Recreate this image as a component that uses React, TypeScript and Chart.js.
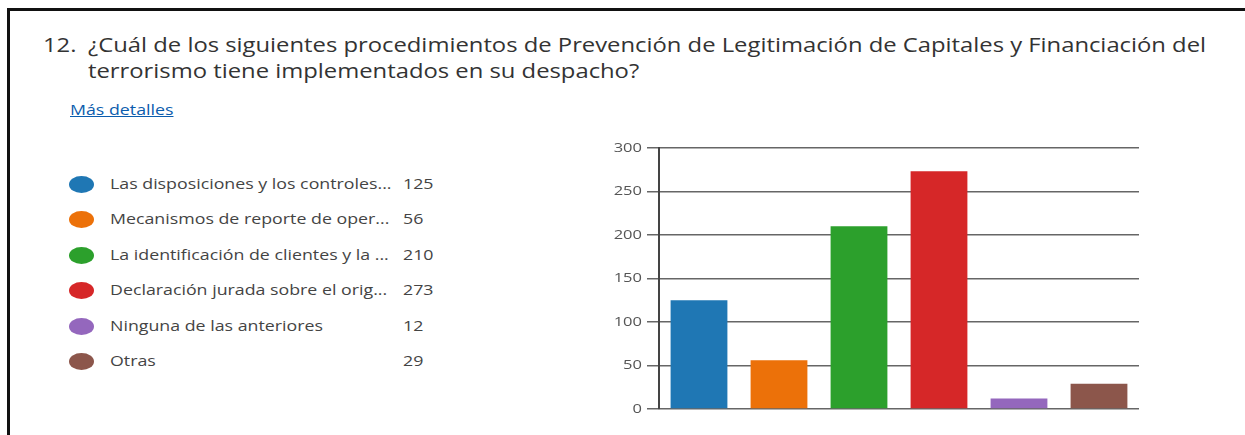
import React, { useEffect, useRef } from "react";
import { Chart, registerables } from "chart.js";

Chart.register(...registerables);

const categories = [
  "Las disposiciones y los controles...",
  "Mecanismos de reporte de oper...",
  "La identificación de clientes y la ...",
  "Declaración jurada sobre el orig...",
  "Ninguna de las anteriores",
  "Otras",
];
const counts = [125, 56, 210, 273, 12, 29];
const colors = ["#1f77b4", "#ec7109", "#2ca02c", "#d62728", "#9467bd", "#8c564b"];
const yTicks = [0, 50, 100, 150, 200, 250, 300];

const titleNumber = "12.";
const titleLine1 =
  "¿Cuál de los siguientes procedimientos de Prevención de Legitimación de Capitales y Financiación del";
const titleLine2 = "terrorismo tiene implementados en su despacho?";
const linkText = "Más detalles";

const FONT = "'Open Sans', 'Noto Sans', sans-serif";
const STRETCH = 1.27;

const stretchedTicks = {
  id: "stretchedTicks",
  afterDraw(chart: any) {
    const scale = chart.scales.y;
    const ctx = chart.ctx;
    ctx.save();
    ctx.fillStyle = "#555";
    ctx.font = `13px ${FONT}`;
    ctx.textAlign = "right";
    ctx.textBaseline = "middle";
    const right = scale.right - 12 - 5;
    scale.ticks.forEach((t: any) => {
      const y = scale.getPixelForValue(t.value);
      ctx.save();
      ctx.translate(right, y);
      ctx.scale(STRETCH, 1);
      ctx.fillText(String(t.value), 0, 0);
      ctx.restore();
    });
    ctx.restore();
  },
};

export default function App() {
  const canvasRef = useRef<HTMLCanvasElement | null>(null);

  useEffect(() => {
    if (!canvasRef.current) return;
    const chart = new Chart(canvasRef.current, {
      type: "bar",
      data: {
        labels: categories,
        datasets: [
          {
            data: counts,
            backgroundColor: colors,
            borderWidth: 0,
            barPercentage: 0.71,
            categoryPercentage: 1,
          },
        ],
      },
      options: {
        animation: false,
        responsive: false,
        maintainAspectRatio: false,
        layout: { padding: { top: 10, bottom: 18, right: 11, left: 0 } },
        plugins: { legend: { display: false }, tooltip: { enabled: false } },
        scales: {
          x: { display: false },
          y: {
            min: 0,
            max: 300,
            afterFit: (scale: any) => {
              scale.width = 69;
            },
            afterBuildTicks: (scale: any) => {
              scale.ticks = yTicks.map((v) => ({ value: v }));
            },
            ticks: {
              padding: 5,
              color: "rgba(0,0,0,0)",
              font: { family: FONT, size: 13 },
            },
            grid: {
              color: "#666",
              lineWidth: 1.5,
              tickLength: 12,
            },
            border: { display: true, color: "#444", width: 2 },
          },
        },
      },
      plugins: [stretchedTicks],
    });
    return () => chart.destroy();
  }, []);

  const stretch = (s: number): React.CSSProperties => ({
    transform: `scaleX(${s})`,
    transformOrigin: "left center",
    whiteSpace: "nowrap",
  });

  return (
    <div
      style={{
        position: "absolute",
        left: 0,
        top: 0,
        width: 1245,
        height: 435,
        overflow: "hidden",
        background: "#fff",
        fontFamily: FONT,
      }}
    >
      <div
        style={{
          position: "absolute",
          left: 7,
          top: 8,
          width: 1300,
          height: 500,
          border: "3px solid #111",
          boxSizing: "border-box",
        }}
      />
      <div style={{ position: "absolute", left: 43, top: 32, fontSize: 20, color: "#333", lineHeight: "26px", ...stretch(1.19) }}>
        {titleNumber}
      </div>
      <div style={{ position: "absolute", left: 88, top: 32, fontSize: 20, color: "#333", lineHeight: "26px" }}>
        <div style={stretch(1.19)}>{titleLine1}</div>
        <div style={stretch(1.19)}>{titleLine2}</div>
      </div>
      <div
        style={{
          position: "absolute",
          left: 70,
          top: 100,
          fontSize: 14,
          color: "#0b5cad",
          textDecoration: "underline",
          ...stretch(STRETCH),
        }}
      >
        {linkText}
      </div>
      {categories.map((c, i) => (
        <div
          key={c}
          style={{ position: "absolute", left: 68, top: 184 + i * 35.4 - 10, height: 20, width: 380 }}
        >
          <div
            style={{
              position: "absolute",
              left: 1,
              top: 2,
              width: 25,
              height: 17,
              borderRadius: "50%",
              background: colors[i],
            }}
          />
          <div style={{ position: "absolute", left: 42, top: 0, fontSize: 14, color: "#444", lineHeight: "20px", ...stretch(STRETCH) }}>
            {c}
          </div>
          <div style={{ position: "absolute", left: 335, top: 0, fontSize: 14, color: "#444", lineHeight: "20px", ...stretch(STRETCH) }}>
            {counts[i]}
          </div>
        </div>
      ))}
      <canvas
        ref={canvasRef}
        width={560}
        height={292}
        style={{ position: "absolute", left: 590, top: 135, width: 560, height: 292 }}
      />
    </div>
  );
}
